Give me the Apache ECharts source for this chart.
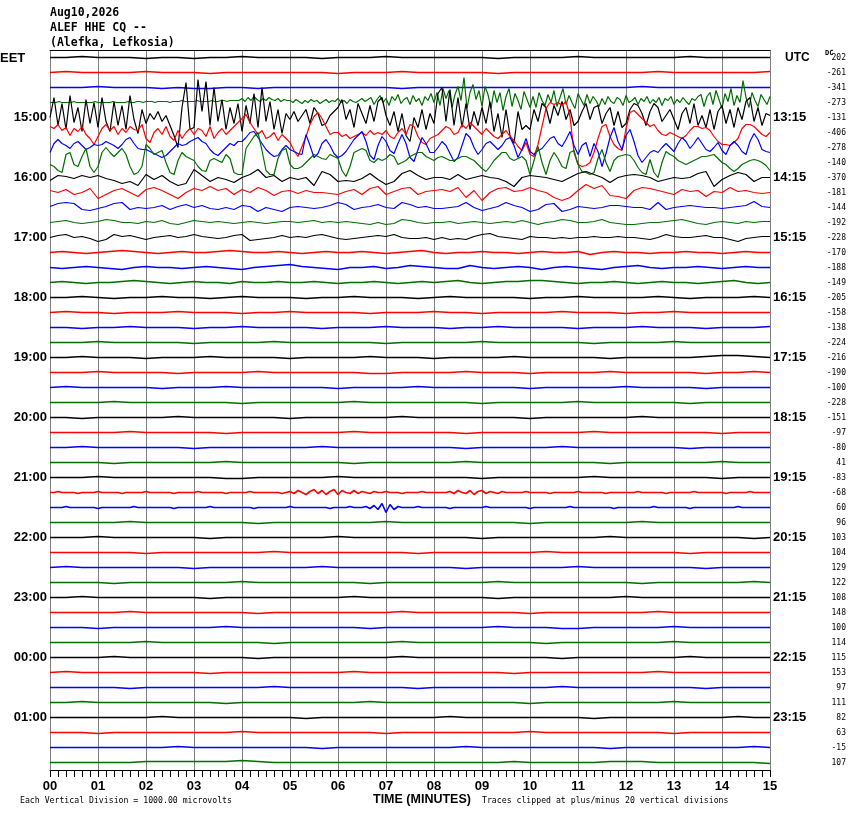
<!DOCTYPE html>
<html><head><meta charset="utf-8">
<script src="https://cdn.jsdelivr.net/npm/echarts@6/dist/echarts.min.js"></script>
<style>html,body{margin:0;padding:0;background:#fff}#c{width:850px;height:814px}</style>
</head><body><div id="c"></div>
<script>
// ---------- labels ----------
const minuteTicks = ['00','01','02','03','04','05','06','07','08','09','10','11','12','13','14','15'];
const eetHours = ['15:00','16:00','17:00','18:00','19:00','20:00','21:00','22:00','23:00','00:00','01:00'];
const utcHours = ['13:15','14:15','15:15','16:15','17:15','18:15','19:15','20:15','21:15','22:15','23:15'];
const dcValues = [202,-261,-341,-273,-131,-406,-278,-140,-370,-181,-144,-192,-228,-170,-188,-149,
  -205,-158,-138,-224,-216,-190,-100,-228,-151,-97,-80,41,-83,-68,60,96,
  103,104,129,122,108,148,100,114,115,153,97,111,82,63,-15,107];
const traceColors = ['#000000','#ff0000','#0000ff','#006e00'];

// ---------- traces (amplitude, px up, evenly spaced over 15 min) ----------
const tr00 = [0,0,1,0,0,0,-1,0,0,-1,0,0,1,0,0,0,0,-1,0,0,0,1,0,0,0,0,0,0,-1,0,0,0,0,1,0,0,0,0,0,0,1,0,0,0,0,0];
const tr01 = [0,1,0,0,0,0,1,0,0,0,-1,0,0,0,0,0,0,0,-1,0,0,0,1,0,0,0,0,0,-1,0,0,0,0,0,0,0,0,0,1,0,0,0,0,0,0,1];
const tr02 = [0,0,0,1,0,0,0,-1,0,-1,-1,0,0,-1,0,0,0,0,0,0,0,0,-1,0,0,0,0,0,0,0,0,0,0,0,0,0,0,1,0,0,0,0,0,0,0,0];
const tr03 = [0,0,0,1,0,0,0,0,1,0, 0,0,0,0,0,1,0,0,0,0, 0,1,0,0,0,0,1,0,0,1, 1,0,1,1,1,0,1,1,1,1, 0,1,1,1,2,1,1,1,1,2, 1,1,1,1,2,1,1,2,2,1, 2,2,2,2,
  4,1,5,2,6,3,1,4,2,5,3,2,4,1,3,2,
  2,0,3,1,-1,2,0,3,1,2,-1,1,3,0,2,1,4,0,2,-1,3,1,0,2,4,1,3,
  5,-2,3,7,0,4,-3,6,2,8,-1,3,5,-2,7,1,4,-3,6,2,9,0,
  10,-3,14,4,12,-5,8,16,2,25,-6,10,18,3,12,-4,16,
  8,-6,12,0,10,-8,6,14,-4,9,2,-7,11,3,-5,
  6,-5,10,2,-3,8,0,12,-4,5,14,-2,7,0,-6,9,3,-3,8,-1,6,2,-4,
  4,-2,6,1,-1,5,3,-3,7,0,2,5,-2,4,1,6,-1,3,0,5,-3,4,2,6,-2,3,0,5,1,-2,4,2,6,
  8,-4,6,10,-2,12,3,-6,9,1,14,-3,7,0,22,5,-5,10,2,-4,8,3,-2,6];
const tr04 = [0,20,-8,14,-12,22,-5,10,-14,18,-6,15,
  -10,20,-4,-14,16,-8,12,-12,22,-2,-16,8,
  -6,4,-2,6,-4,2,-8,-18,-30,10,35,-12,
  -10,38,6,36,-8,30,-4,18,-12,10,-6,14,
  -14,12,-6,24,-10,30,-4,16,-12,8,-16,4,
  -2,6,-4,2,8,-6,10,4,-8,-6,2,6,
  10,18,-2,8,-10,14,4,-6,12,-4,16,20,
  2,-8,6,-14,4,-18,-24,0,-10,8,-12,4,
  -6,24,30,-4,28,-8,20,-10,14,-12,6,-8,
  10,-6,16,-14,4,-20,8,-18,-26,6,-12,-8,
  -12,8,-4,14,10,-6,12,2,16,-2,8,-8,
  -4,6,14,-2,10,12,-6,4,10,-8,6,-10,
  -6,8,14,12,4,-8,6,14,10,-4,2,8,
  -2,-12,4,10,-6,14,-8,2,-10,8,-12,6,
  12,-6,8,-10,10,-2,16,20,-4,10,-8,4,2];
const tr05 = [6,4,8,2,5,-3,4,1,6,-2,-6,-12,
  -4,4,8,2,6,-2,4,0,6,3,2,8,
  -6,-10,0,4,-2,6,-4,-8,2,-6,0,4,
  -2,4,2,-4,6,-6,0,4,-2,2,6,10,
  14,18,10,4,-2,2,-6,-4,0,-8,-2,-6,
  -10,-18,-24,-14,-4,8,16,20,14,6,-2,0,
  0,-4,-2,-6,-4,-2,0,-3,2,-2,0,-2,
  2,-4,-6,0,4,-2,8,6,-4,-10,-12,-6,
  -4,-2,2,6,4,-2,0,8,4,10,6,2,
  -2,4,0,-4,-6,-2,2,-4,-8,-14,-18,-10,
  -22,-24,-12,6,24,30,28,30,27,31,16,-20,
  -32,-34,-33,-30,-20,-6,6,8,-4,-12,-16,-18,
  4,20,22,18,14,10,6,8,2,-2,-3,0,
  -2,-4,-6,-3,2,6,6,4,5,2,-4,-9,
  -12,-12,-13,-10,-6,4,8,8,6,2,-2,-4,0];
const tr06 = [-5,4,8,4,2,-1,4,6,2,-2,0,3,
  2,3,6,4,2,-1,3,8,10,4,-1,-2,
  -2,-4,-6,-8,-10,-8,-4,0,4,2,3,6,
  8,10,6,4,-2,-6,-8,-4,0,4,2,6,
  6,10,15,16,10,4,-2,-6,-9,-8,-2,2,
  -2,-4,-6,-7,13,2,-10,-6,4,8,2,-6,
  -10,-8,-4,2,8,12,16,6,-8,-12,2,11,
  6,-3,-6,4,13,4,-10,-14,-2,10,4,-5,
  -5,0,6,2,-6,-14,-10,2,14,10,0,-7,
  -2,4,6,2,-2,2,8,10,2,-10,-2,9,
  -4,-7,-3,-1,4,9,11,4,1,8,16,2,
  -7,2,5,-9,4,-4,-19,-6,10,20,6,-2,
  12,18,6,-8,-15,-10,-5,-3,-5,0,4,0,
  -4,4,10,6,-1,4,10,4,-2,-4,0,5,
  -3,-7,2,6,2,-4,-7,6,14,8,-2,-4,-5];
const tr07 = [-2,-4,-8,-10,8,10,-2,-4,6,14,-4,-10,
  -4,10,15,10,6,10,14,8,-4,-12,-10,-4,
  18,14,8,10,12,0,-10,-12,2,10,6,4,
  2,-4,-8,-9,2,4,2,0,8,4,-10,-12,
  -12,14,20,26,30,12,-8,-12,-12,4,12,14,
  -2,-6,-6,-4,0,4,8,6,4,3,8,6,
  4,-8,-14,-4,10,12,14,12,2,0,4,2,
  4,8,6,-2,0,2,6,8,10,10,6,4,
  2,5,6,4,2,2,4,6,6,4,2,-2,
  -6,-9,-4,2,6,10,10,4,2,4,6,2,
  -12,2,16,0,-12,2,10,4,-4,-6,10,12,
  -2,-9,-10,-12,-10,4,13,0,-9,2,6,7,
  8,7,2,-5,-10,-12,3,-10,-15,0,11,8,
  6,2,0,-2,0,2,4,6,6,7,8,4,
  0,-2,-6,-9,-6,-2,0,2,3,2,0,-3,-8];
const tr08 = [-3,2,1,-1,2,0,2,-1,-3,-6, -4,-8,3,-2,2,-4,-8,-6,8,2, -4,0,-2,-5,0,3,8,0,2,-4,
  0,-2,0,-8,6,3,-4,-3,-4,-1, 4,-2,-7,-4,4,7,2,-2,0,0, -2,3,-2,0,2,0,-1,-4,-9,0,
  2,1,0,-2,-4,0,4,6,3,0, -5,0,2,3,2,0,-4,-2,0,-1, 0,4,6,-9,-2,2,5,3,-4,0,0];
const tr09 = [2,0,3,-2,0,4,-6,-2,2,4, 0,-4,3,5,2,-2,-6,0,4,2, 6,2,4,-2,3,0,5,2,-3,1,
  2,-1,2,0,0,-1,-2,1,3,-2, 4,6,-2,1,4,5,-2,1,2,3, 1,5,-5,2,-8,0,4,5,1,2,
  5,2,0,-5,-8,-5,2,8,4,7, -3,-4,-6,2,5,4,2,0,-2,3, 1,2,-4,1,0,5,1,2,0,-1,0];
const tr10 = [1,4,5,4,-2,-3,-1,1,4,5, -2,0,-1,0,2,-2,1,3,0,2, -1,-2,0,-2,2,1,-4,0,-2,-4,
  0,1,0,-1,0,2,5,3,-2,0, 1,3,0,-1,5,3,0,1,-1,-1, 0,1,5,0,-3,-1,1,5,2,0,
  -4,-2,3,4,-4,-2,1,0,-1,0, 2,2,1,0,0,-2,5,-2,0,1, 2,1,0,0,-1,0,1,2,6,1,0];
const tr11 = [0,1,2,0,-1,0,1,3,2,0, 0,-1,1,0,2,-1,-2,0,2,1, 0,1,0,-1,0,1,0,-1,0,1,
  1,0,1,2,0,1,0,1,0,-1, -2,0,-2,-1,3,2,0,-1,0,0, 1,-1,0,1,0,-1,0,1,0,2,
  0,-2,0,1,3,2,0,0,1,3, 0,-1,-2,-2,-1,0,0,1,2,3, 1,-1,-2,0,1,0,-1,1,0,1,1];
const tr12 = [0,2,3,0,1,-1,-4,-2,3,1, 2,0,-2,0,1,2,0,1,3,1, 0,-1,0,2,3,-3,-2,-1,0,2,
  0,1,0,2,3,1,-1,-2,-1,0, 1,2,1,3,0,-1,-1,0,-2,0, -2,-1,-2,1,3,4,1,0,-1,-2,
  1,0,0,-1,0,-1,0,0,1,0, 0,1,0,0,-1,-2,0,3,1,0, 0,1,2,0,0,-2,-4,-1,0,1,1];
const tr13 = [0,1,0,-1,0,1,2,1,0,-1,0,1,0,0,1,2,1,0,0,1,0,-1,0,1,0,0,1,0,-1,0,1,2,0,-1,0,0,1,0,0,-1,0,1,0,0,1,-2,0,1,0,0,-1,0,0,1,0,0,-1,0,1,0,0];
const tr14 = [0,-1,0,1,0,-1,-2,0,1,0,0,-1,0,1,0,-1,-2,0,1,2,3,1,0,-1,-2,0,0,1,-1,0,2,1,0,-1,-1,2,0,-1,0,1,0,-2,0,1,0,-1,-2,0,1,2,0,-1,0,0,1,0,-1,0,1,0,0];
const tr15 = [0,1,0,-1,0,0,1,2,1,0,-1,0,1,0,0,-1,1,0,0,1,0,0,1,0,-1,0,0,1,0,-1,0,1,0,1,2,0,-1,0,1,1,2,2,1,0,-1,0,0,1,0,-1,0,1,0,0,-1,0,1,2,0,-1,0];
const tr16 = [0,0,1,0,-1,0,0,1,0,0,-1,0,1,0,0,0,-1,0,0,1,0,0,0,-1,0,1,0,0,0,0,-1,0,0,1,0,0,0,0,1,0,-1,0,0,0,1,0];
const tr17 = [0,1,0,0,-1,0,0,0,1,0,0,0,-1,0,0,1,0,0,0,0,-1,0,0,0,1,0,0,-1,0,0,0,0,1,0,0,0,-1,0,0,1,0,0,0,0,0,0];
const tr18 = [0,0,-1,0,0,1,0,0,0,-1,0,0,1,0,0,0,0,-1,0,0,0,1,0,0,0,-1,0,0,1,0,0,0,0,-1,0,0,0,1,0,0,0,-1,0,0,0,1];
const tr19 = [0,0,0,1,0,0,0,0,0,-1,0,0,0,0,1,0,0,0,0,0,0,-1,0,0,0,0,0,1,0,0,0,0,0,0,-1,0,0,0,0,1,0,0,0,0,0,0];
const tr20 = [0,0,1,0,0,0,-1,0,0,0,1,0,0,0,0,-1,0,0,0,0,1,0,0,0,-1,0,0,0,0,1,0,0,0,0,0,-1,0,0,0,0,0,1,2,2,1,0];
const tr21 = [0,0,0,1,0,0,0,0,-1,0,0,0,0,1,0,0,0,0,0,0,-1,-1,0,0,0,0,1,0,0,0,-1,0,0,0,0,1,0,0,0,0,0,-1,0,0,1,0];
const tr22 = [0,1,0,0,0,0,0,-1,0,0,0,1,0,0,0,0,0,0,-1,0,0,0,0,1,0,0,0,0,0,0,-1,0,0,0,0,0,1,0,0,0,0,-1,0,0,0,0];
const tr23 = [0,0,0,0,1,0,0,0,0,0,0,0,-1,0,0,0,0,0,0,1,0,0,0,0,0,0,0,-1,0,0,0,0,0,1,0,0,0,0,0,0,-1,0,0,0,0,0];
const tr24 = [0,0,-1,0,0,0,0,0,1,0,0,0,0,0,0,-1,0,0,0,0,0,0,1,0,0,0,0,0,0,0,-1,0,0,0,0,0,0,1,0,0,0,0,0,0,0,0];
const tr25 = [0,0,0,0,0,1,0,0,0,0,0,-1,0,0,0,0,0,0,0,1,0,0,0,0,0,0,-1,0,0,0,0,0,0,0,1,0,0,0,0,0,0,0,-1,0,0,0];
const tr26 = [0,0,1,0,0,0,0,0,0,-1,0,0,0,0,0,0,0,1,0,0,0,0,0,0,0,0,-1,0,0,0,0,0,1,0,0,0,0,0,0,0,-1,0,0,0,0,0];
const tr27 = [0,0,0,0,-1,0,0,0,0,0,0,1,0,0,0,0,0,0,0,-1,0,0,0,0,0,0,1,0,0,0,0,0,0,0,0,-1,0,0,0,0,0,0,1,0,0,0];
const tr28 = [0,0,0,1,0,0,0,0,0,0,0,-1,-1,0,0,0,0,0,1,0,0,0,0,0,0,0,0,-1,0,0,0,0,0,0,1,0,0,0,0,0,0,0,-1,0,0,0];
const tr29 = [0,0,1,0,0,0,0,-1,0,0, 0,0,1,0,0,0,0,0,-1,0, 0,0,0,0,1,0,0,0,0,0, 0,-1,0,0,0,0,0,1,0,0, 0,0,0,0,-1,0,0,0,0,0, 1,0,0,0,0,0,0,0,-1,0,
  1,-1,2,0,-2,1,3,-1,2,-2,1,3,-2,2,0,-1,2,-1,1,0,-1,1,0,0,1,
  0,0,0,-1,0,0,0,0,1,0,0,0,0,0,0,
  1,-1,2,0,-1,2,-2,1,2,-1,1,0,-1,1,0,
  0,0,0,0,1,0,0,0,0,0, -1,0,0,0,0,0,0,1,0,0, 0,0,0,0,-1,0,0,0,0,0, 0,0,1,0,0,0,0,0,0,-1, 0,0,0,0,0,0,1,0,0,0, 0,0,0,0,-1,0,0,0,0,0, 1,0,0,0,0,0];
const tr30 = [0,0,0,0,1,0,0,0,0,0, 0,0,-1,0,0,0,0,0,0,0, 0,1,0,0,0,0,0,0,0,0, 0,-1,0,0,0,0,0,0,0,0, 1,0,0,0,0,0,0,0,0,0, 0,-1,0,0,0,0,0,0,0,0, 1,0,0,0,0,0,0,0,0,0, -1,0,0,0,0,1,0,0,
  0,1,-1,2,-2,4,-5,3,-2,1,0,
  0,0,0,1,0,0,0,0,0,0, 0,-1,0,0,0,0,0,0,0,0, 1,0,0,0,0,0,0,0,0,0, 0,-1,0,0,0,0,0,0,0,0, 0,1,0,0,0,0,0,0,0,0, 0,0,-1,0,0,0,0,0,0,0, 0,0,1,0,0,0,0,0,0,0, 0,-1,0,0,0,0,0,0,0,0, 0,0,0,1,0,0,0,0,0,0, 0,0];
const tr31 = [0,0,0,0,0,1,0,0,0,0,0,0,0,-1,0,0,0,0,0,0,0,1,0,0,0,0,0,0,0,0,-1,0,0,0,0,0,0,1,0,0,0,0,0,0,0,0];
const tr32 = [0,0,0,1,0,0,0,0,0,0,-1,0,0,0,0,0,0,0,1,0,0,0,0,0,0,0,0,-1,0,0,0,0,0,0,0,1,0,0,0,0,0,0,0,0,-1,0];
const tr33 = [0,0,0,0,0,0,-1,0,0,0,0,0,0,0,1,0,0,0,0,0,0,0,0,-1,0,0,0,0,0,0,0,1,0,0,0,0,0,0,0,0,-1,0,0,0,0,0];
const tr34 = [0,1,0,0,0,0,0,0,0,-1,0,0,0,0,0,0,0,1,0,0,0,0,0,0,0,0,-1,0,0,0,0,0,0,1,0,0,0,0,0,0,0,-1,0,0,0,0];
const tr35 = [0,0,0,0,-1,0,0,0,0,0,0,0,1,0,0,0,0,0,0,0,-1,0,0,0,0,0,0,0,1,0,0,0,0,0,0,0,0,-1,0,0,0,0,0,0,1,0];
const tr36 = [0,0,1,0,0,0,0,0,0,0,-1,0,0,0,0,0,0,0,0,1,0,0,0,0,0,0,0,0,-1,0,0,0,0,0,0,0,1,0,0,0,0,0,0,0,0,0];
const tr37 = [0,0,0,0,0,1,0,0,0,0,0,0,0,-1,0,0,0,0,0,0,0,0,1,0,0,0,0,0,0,0,-1,0,0,0,0,0,0,0,1,0,0,0,0,0,0,0];
const tr38 = [0,0,0,-1,0,0,0,0,0,0,0,1,0,0,0,0,0,0,0,0,-1,0,0,0,0,0,0,0,1,0,0,0,-1,-1,0,0,0,0,0,1,0,0,0,0,0,0];
const tr39 = [0,0,0,0,0,0,1,0,0,0,0,0,0,0,-1,0,0,0,0,0,0,0,1,0,0,0,0,0,0,0,0,-1,0,0,0,0,0,0,0,1,0,0,0,0,0,0];
const tr40 = [0,0,0,0,1,0,0,0,0,0,0,0,0,-1,0,0,0,0,0,0,0,0,1,0,0,0,0,0,0,0,0,0,-1,0,0,0,0,0,0,0,1,0,0,0,0,0];
const tr41 = [0,1,0,0,0,0,0,0,0,0,-1,0,0,0,0,0,0,0,0,1,0,0,0,0,0,0,0,0,0,-1,0,0,0,0,0,0,0,0,1,0,0,0,0,0,0,0];
const tr42 = [0,0,0,0,0,-1,0,0,0,0,0,0,0,0,1,0,0,0,0,0,0,0,0,-1,0,0,0,0,0,0,0,0,1,0,0,0,0,0,0,0,0,-1,0,0,0,0];
const tr43 = [0,0,1,0,0,0,0,0,0,0,0,-1,0,0,0,0,0,0,0,0,1,0,0,0,0,0,0,0,0,0,-1,0,0,0,0,0,0,0,0,1,0,0,0,0,0,0];
const tr44 = [0,0,0,0,0,0,0,1,0,0,0,0,0,0,0,0,-1,0,0,0,0,0,0,0,0,1,0,0,0,0,0,0,0,0,-1,0,0,0,0,0,0,0,0,1,0,0];
const tr45 = [0,0,0,-1,0,0,0,0,0,0,0,0,1,0,0,0,0,0,0,0,0,-1,0,0,0,0,0,0,0,0,1,0,0,0,0,0,0,0,0,-1,0,0,0,0,0,0];
const tr46 = [0,0,0,0,0,0,0,0,1,0,0,0,0,0,0,0,0,-1,0,0,0,0,0,0,0,0,1,0,0,0,0,0,0,0,0,-1,0,0,0,0,0,0,0,0,1,0];
const tr47 = [0,0,0,0,0,0,1,1,1,1,1,1,2,1,0,0,0,0,0,0,0,0,0,0,0,0,0,0,0,1,0,0,0,0,0,1,1,1,0,0,0,0,0,0,0,-1];

const traces = [tr00,tr01,tr02,tr03,tr04,tr05,tr06,tr07,tr08,tr09,tr10,tr11,tr12,tr13,tr14,tr15,
  tr16,tr17,tr18,tr19,tr20,tr21,tr22,tr23,tr24,tr25,tr26,tr27,tr28,tr29,tr30,tr31,
  tr32,tr33,tr34,tr35,tr36,tr37,tr38,tr39,tr40,tr41,tr42,tr43,tr44,tr45,tr46,tr47];

// ---------- build ----------
const ROW = 15, NROW = traces.length;
const leftLabels = [], rightLabels = [];
for (let i = 0; i < NROW; i++) {
  const k = i / 4;
  leftLabels.push(i % 4 === 0 && k >= 1 ? eetHours[k - 1] : '');
  rightLabels.push(i % 4 === 0 && k >= 1 ? utcHours[k - 1] : '');
}
const series = traces.map((a, i) => {
  const n = a.length;
  return {
    type: 'line', xAxisIndex: 0, yAxisIndex: 0, silent: true, animation: false,
    symbol: 'none', showSymbol: false,
    lineStyle: { color: traceColors[i % 4], width: (i >= 3 && i <= 12) ? 1.2 : 1.6 },
    data: a.map((v, j) => [15 * j / (n - 1), ROW * i + ROW / 2 - v])
  };
});

const mono = 'DejaVu Sans Mono';
const sans = 'Liberation Sans';
const txt = (text, left, top, style) => ({ text, left, top, padding: 0, textStyle: Object.assign({ color: '#000' }, style) });
const chart = echarts.init(document.getElementById('c'), null, { renderer: 'canvas' });
chart.setOption({
  backgroundColor: '#ffffff',
  animation: false,
  title: [
    txt('Aug10,2026', 50, 7, { fontFamily: mono, fontSize: 11.5, fontWeight: 'bold' }),
    txt('ALEF HHE CQ --', 50, 22, { fontFamily: mono, fontSize: 11.5, fontWeight: 'bold' }),
    txt('(Alefka, Lefkosia)', 50, 37, { fontFamily: mono, fontSize: 11.5, fontWeight: 'bold' }),
    txt('EET', 0, 52, { fontFamily: sans, fontSize: 13, fontWeight: 'bold' }),
    txt('UTC', 785, 52, { fontFamily: sans, fontSize: 12, fontWeight: 'bold' }),
    txt('DC', 825, 50, { fontFamily: mono, fontSize: 7 }),
    txt('Each Vertical Division = 1000.00 microvolts', 20, 797, { fontFamily: mono, fontSize: 8.2, fontWeight: 'normal' }),
    txt('TIME (MINUTES)', 373, 793, { fontFamily: sans, fontSize: 12.5, fontWeight: 'bold' }),
    txt('Traces clipped at plus/minus 20 vertical divisions', 482, 797, { fontFamily: mono, fontSize: 8.2, fontWeight: 'normal' })
  ],
  grid: { left: 50, right: 80, top: 50, bottom: 44, containLabel: false },
  xAxis: [
    { type: 'value', position: 'bottom', min: 0, max: 15, interval: 1,
      axisLine: { show: true, onZero: false, lineStyle: { color: '#000', width: 1 } },
      axisTick: { show: true, length: 7, lineStyle: { color: '#000' } },
      minorTick: { show: true, splitNumber: 6, length: 7, lineStyle: { color: '#000' } },
      splitLine: { show: true, lineStyle: { color: '#808080', width: 1 } },
      axisLabel: { margin: 10, formatter: v => minuteTicks[Math.round(v)], fontFamily: sans, fontSize: 13, fontWeight: 'bold', color: '#000' } },
    { type: 'value', position: 'top', min: 0, max: 15, interval: 1,
      axisLine: { show: true, onZero: false, lineStyle: { color: '#000', width: 1 } },
      axisTick: { show: false }, minorTick: { show: false }, axisLabel: { show: false }, splitLine: { show: false } }
  ],
  yAxis: [
    { type: 'value', inverse: true, min: 0, max: ROW * NROW, show: false, splitLine: { show: false } },
    { type: 'category', position: 'left', inverse: true, data: leftLabels,
      axisLine: { show: false }, axisTick: { show: false }, splitLine: { show: false },
      axisLabel: { interval: 0, margin: 3, fontFamily: sans, fontSize: 13, fontWeight: 'bold', color: '#000' } },
    { type: 'category', position: 'right', inverse: true, data: rightLabels,
      axisLine: { show: false }, axisTick: { show: false }, splitLine: { show: false },
      axisLabel: { interval: 0, margin: 3, fontFamily: sans, fontSize: 13, fontWeight: 'bold', color: '#000' } },
    { type: 'category', position: 'right', inverse: true, data: dcValues.map(String),
      axisLine: { show: false }, axisTick: { show: false }, splitLine: { show: false },
      axisLabel: { interval: 0, margin: 76, align: 'right', fontFamily: mono, fontSize: 8, color: '#000' } }
  ],
  series: series
});
</script>
</body></html>
